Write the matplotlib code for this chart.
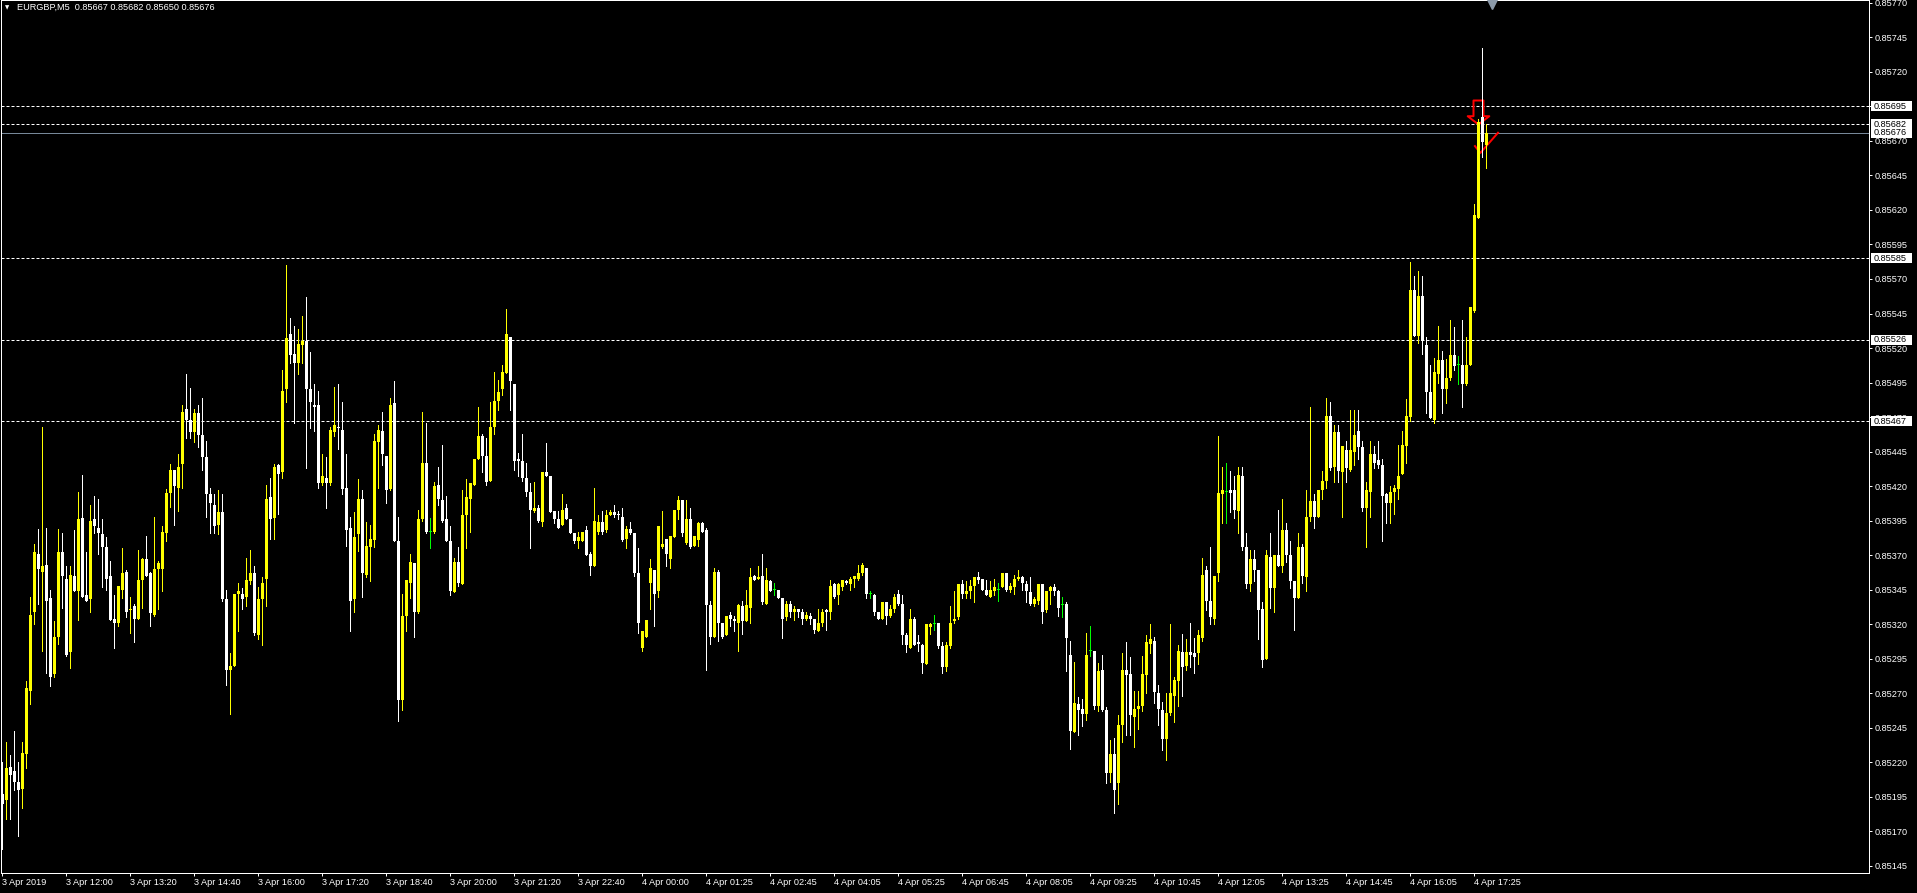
import matplotlib as mpl
mpl.use('Agg')

import matplotlib.pyplot as plt
from matplotlib.path import Path
from matplotlib.patches import Rectangle
import numpy as np

# MT4 style colours
bg_color = "#000000"
fg_color = "#FFFFFF"
bull_color = "#FFFF00"
bear_color = "#FFFFFF"
doji_color = "#00FF00"
bid_color = "#778899"
arrow_color = "#FF0000"

plt.rcParams['font.family'] = ['Liberation Sans', 'DejaVu Sans']

symbol = "EURGBP,M5"
last_ohlc = "0.85667 0.85682 0.85650 0.85676"

# EURGBP M5 candles, prices in points (1e-5)
opens = [
  85197, 85193, 85217, 85214, 85206, 85201, 85226, 85272, 85329, 85371,
  85358, 85363, 85339, 85284, 85311, 85372, 85353, 85300, 85355, 85344,
  85397, 85341, 85338, 85396, 85390, 85385, 85376, 85355, 85324, 85321,
  85345, 85358, 85330, 85333, 85324, 85352, 85367, 85357, 85327, 85360,
  85360, 85386, 85415, 85432, 85419, 85436, 85476, 85468, 85459, 85473,
  85457, 85441, 85414, 85406, 85392, 85401, 85338, 85287, 85290, 85342,
  85342, 85340, 85351, 85357, 85312, 85338, 85353, 85412, 85397, 85435,
  85430, 85490, 85530, 85516, 85509, 85522, 85525, 85490, 85479, 85479,
  85422, 85426, 85422, 85459, 85463, 85461, 85419, 85390, 85338, 85385,
  85411, 85356, 85376, 85381, 85452, 85460, 85442, 85418, 85480, 85380,
  85265, 85326, 85350, 85364, 85329, 85396, 85437, 85387, 85387, 85421,
  85410, 85396, 85380, 85343, 85365, 85349, 85399, 85411, 85421, 85440,
  85456, 85442, 85424, 85463, 85482, 85490, 85502, 85528, 85494, 85440,
  85438, 85426, 85416, 85402, 85404, 85394, 85430, 85427, 85402, 85396,
  85392, 85404, 85396, 85386, 85380, 85380, 85388, 85371, 85362, 85387,
  85394, 85388, 85399, 85401, 85400, 85398, 85382, 85389, 85386, 85357,
  85303, 85311, 85350, 85359, 85344, 85376, 85382, 85367, 85383, 85403,
  85410, 85379, 85396, 85377, 85381, 85393, 85388, 85334, 85311, 85358,
  85321, 85312, 85327, 85324, 85321, 85333, 85322, 85332, 85355, 85353,
  85355, 85335, 85351, 85345, 85345, 85339, 85325, 85335, 85329, 85331,
  85329, 85324, 85326, 85324, 85315, 85321, 85330, 85329, 85349, 85341,
  85347, 85351, 85349, 85353, 85353, 85357, 85361, 85342, 85341, 85329,
  85324, 85336, 85326, 85331, 85342, 85335, 85312, 85303, 85324, 85307,
  85305, 85291, 85318, 85320, 85321, 85304, 85289, 85304, 85322, 85325,
  85349, 85342, 85344, 85348, 85354, 85353, 85345, 85340, 85344, 85345,
  85347, 85357, 85345, 85347, 85353, 85354, 85349, 85343, 85335, 85337,
  85349, 85330, 85344, 85347, 85344, 85334, 85335, 85298, 85242, 85262,
  85259, 85255, 85301, 85301, 85261, 85287, 85258, 85212, 85226, 85205,
  85247, 85287, 85284, 85253, 85259, 85261, 85283, 85306, 85308, 85270,
  85258, 85237, 85256, 85268, 85279, 85300, 85290, 85300, 85299, 85299,
  85310, 85359, 85337, 85324, 85357, 85414, 85416, 85417, 85417, 85402,
  85427, 85376, 85349, 85367, 85359, 85331, 85295, 85369, 85346, 85370,
  85362, 85388, 85370, 85351, 85339, 85376, 85354, 85398, 85409, 85398,
  85417, 85424, 85471, 85434, 85459, 85430, 85446, 85432, 85445, 85460,
  85448, 85404, 85416, 85443, 85439, 85435, 85414, 85408, 85416, 85418,
  85429, 85449, 85470, 85562, 85529, 85558, 85522, 85488, 85468, 85501,
  85511, 85490, 85498, 85515, 85508, 85508, 85494, 85508, 85547, 85614,
  85687, 85667]

highs = [
  85220, 85235, 85225, 85243, 85220, 85235, 85279, 85340, 85378, 85389,
  85463, 85390, 85345, 85322, 85389, 85386, 85362, 85362, 85388, 85416,
  85428, 85372, 85406, 85413, 85411, 85396, 85383, 85366, 85341, 85348,
  85375, 85359, 85340, 85335, 85374, 85368, 85384, 85358, 85398, 85366,
  85391, 85418, 85436, 85432, 85443, 85479, 85501, 85491, 85476, 85479,
  85484, 85453, 85419, 85414, 85417, 85414, 85345, 85299, 85342, 85350,
  85346, 85368, 85374, 85362, 85347, 85354, 85421, 85426, 85436, 85436,
  85504, 85580, 85542, 85536, 85534, 85543, 85557, 85517, 85494, 85489,
  85443, 85441, 85463, 85492, 85494, 85481, 85443, 85398, 85401, 85425,
  85417, 85394, 85392, 85458, 85464, 85474, 85442, 85484, 85496, 85398,
  85342, 85352, 85371, 85364, 85403, 85474, 85466, 85397, 85423, 85434,
  85450, 85413, 85391, 85368, 85376, 85417, 85425, 85422, 85440, 85477,
  85458, 85455, 85481, 85503, 85497, 85508, 85548, 85528, 85494, 85444,
  85458, 85437, 85422, 85423, 85406, 85430, 85451, 85427, 85402, 85402,
  85414, 85407, 85396, 85386, 85387, 85387, 85391, 85372, 85419, 85399,
  85402, 85403, 85403, 85406, 85402, 85404, 85391, 85394, 85386, 85375,
  85315, 85323, 85367, 85359, 85391, 85402, 85382, 85384, 85403, 85413,
  85410, 85410, 85404, 85384, 85394, 85394, 85390, 85337, 85361, 85359,
  85321, 85326, 85329, 85326, 85335, 85337, 85345, 85361, 85356, 85362,
  85371, 85361, 85352, 85350, 85345, 85339, 85337, 85337, 85333, 85331,
  85331, 85329, 85328, 85324, 85331, 85331, 85331, 85352, 85350, 85350,
  85352, 85352, 85354, 85355, 85363, 85364, 85361, 85344, 85342, 85329,
  85336, 85336, 85334, 85342, 85345, 85341, 85314, 85331, 85325, 85312,
  85306, 85320, 85321, 85327, 85321, 85307, 85307, 85333, 85344, 85349,
  85352, 85351, 85352, 85354, 85358, 85353, 85352, 85351, 85353, 85350,
  85357, 85357, 85350, 85356, 85359, 85355, 85351, 85354, 85340, 85349,
  85349, 85344, 85348, 85349, 85345, 85340, 85336, 85308, 85293, 85267,
  85266, 85314, 85319, 85301, 85292, 85298, 85260, 85236, 85238, 85254,
  85299, 85307, 85296, 85272, 85272, 85297, 85312, 85320, 85311, 85276,
  85264, 85270, 85320, 85282, 85305, 85313, 85309, 85321, 85310, 85316,
  85368, 85362, 85376, 85355, 85456, 85434, 85437, 85431, 85427, 85434,
  85434, 85386, 85374, 85374, 85359, 85336, 85374, 85386, 85370, 85403,
  85411, 85393, 85380, 85351, 85386, 85378, 85417, 85477, 85414, 85417,
  85431, 85484, 85481, 85464, 85464, 85449, 85453, 85475, 85475, 85475,
  85453, 85423, 85453, 85449, 85453, 85440, 85415, 85420, 85421, 85450,
  85460, 85483, 85582, 85572, 85576, 85572, 85528, 85508, 85513, 85536,
  85518, 85512, 85540, 85535, 85514, 85540, 85528, 85550, 85624, 85686,
  85737, 85682]

lows = [
  85157, 85179, 85179, 85200, 85167, 85187, 85216, 85262, 85320, 85335,
  85301, 85285, 85275, 85282, 85306, 85332, 85297, 85288, 85344, 85323,
  85340, 85337, 85329, 85386, 85371, 85347, 85345, 85323, 85303, 85319,
  85339, 85325, 85314, 85307, 85324, 85332, 85355, 85319, 85326, 85331,
  85344, 85380, 85405, 85392, 85402, 85419, 85455, 85455, 85452, 85448,
  85432, 85398, 85386, 85386, 85385, 85337, 85276, 85255, 85290, 85315,
  85331, 85333, 85349, 85312, 85309, 85305, 85333, 85382, 85382, 85400,
  85426, 85481, 85509, 85466, 85501, 85509, 85433, 85462, 85460, 85419,
  85421, 85404, 85421, 85456, 85447, 85414, 85377, 85315, 85329, 85373,
  85340, 85354, 85351, 85376, 85419, 85435, 85408, 85417, 85380, 85250,
  85258, 85315, 85339, 85311, 85328, 85395, 85386, 85375, 85386, 85406,
  85394, 85380, 85341, 85343, 85348, 85349, 85375, 85387, 85421, 85440,
  85430, 85421, 85424, 85458, 85475, 85486, 85502, 85475, 85432, 85427,
  85424, 85413, 85375, 85401, 85394, 85391, 85427, 85401, 85393, 85390,
  85392, 85396, 85386, 85379, 85375, 85380, 85370, 85356, 85362, 85385,
  85385, 85387, 85399, 85398, 85396, 85380, 85375, 85385, 85355, 85314,
  85301, 85311, 85331, 85319, 85340, 85375, 85362, 85361, 85383, 85396,
  85384, 85378, 85375, 85377, 85377, 85387, 85287, 85306, 85311, 85308,
  85310, 85312, 85319, 85315, 85301, 85313, 85322, 85321, 85352, 85353,
  85335, 85335, 85344, 85341, 85339, 85310, 85323, 85325, 85323, 85325,
  85320, 85323, 85320, 85314, 85315, 85319, 85316, 85324, 85339, 85335,
  85345, 85349, 85345, 85347, 85352, 85356, 85339, 85339, 85327, 85324,
  85324, 85320, 85325, 85329, 85334, 85306, 85300, 85303, 85305, 85301,
  85285, 85291, 85313, 85316, 85303, 85285, 85286, 85303, 85321, 85324,
  85339, 85339, 85339, 85336, 85350, 85345, 85341, 85340, 85341, 85337,
  85347, 85344, 85343, 85342, 85352, 85345, 85336, 85334, 85333, 85335,
  85321, 85329, 85335, 85341, 85326, 85325, 85286, 85230, 85242, 85240,
  85246, 85251, 85297, 85259, 85257, 85257, 85205, 85206, 85183, 85190,
  85235, 85240, 85240, 85231, 85244, 85257, 85270, 85299, 85263, 85247,
  85229, 85222, 85254, 85249, 85261, 85268, 85287, 85289, 85285, 85291,
  85308, 85330, 85320, 85320, 85351, 85393, 85393, 85401, 85397, 85386,
  85374, 85346, 85344, 85351, 85309, 85289, 85295, 85332, 85329, 85362,
  85358, 85365, 85346, 85316, 85339, 85350, 85344, 85395, 85390, 85398,
  85411, 85419, 85432, 85423, 85423, 85398, 85423, 85431, 85435, 85440,
  85402, 85376, 85398, 85433, 85433, 85380, 85393, 85393, 85400, 85411,
  85429, 85437, 85467, 85529, 85524, 85516, 85473, 85469, 85466, 85495,
  85473, 85480, 85497, 85504, 85494, 85477, 85493, 85508, 85546, 85614,
  85658, 85650]

closes = [
  85190, 85216, 85211, 85206, 85200, 85227, 85274, 85327, 85372, 85360,
  85362, 85337, 85282, 85311, 85372, 85355, 85298, 85356, 85344, 85396,
  85340, 85337, 85395, 85391, 85386, 85376, 85353, 85323, 85321, 85348,
  85357, 85329, 85331, 85324, 85352, 85367, 85355, 85328, 85360, 85364,
  85387, 85415, 85432, 85420, 85434, 85474, 85468, 85459, 85473, 85457,
  85441, 85414, 85408, 85391, 85401, 85338, 85287, 85290, 85342, 85344,
  85338, 85352, 85357, 85314, 85338, 85350, 85411, 85396, 85434, 85429,
  85489, 85527, 85515, 85509, 85523, 85525, 85490, 85481, 85477, 85422,
  85427, 85422, 85461, 85464, 85462, 85418, 85388, 85337, 85383, 85411,
  85357, 85377, 85382, 85453, 85461, 85443, 85417, 85479, 85380, 85265,
  85326, 85352, 85365, 85329, 85396, 85437, 85387, 85387, 85420, 85411,
  85395, 85380, 85344, 85365, 85350, 85399, 85412, 85422, 85440, 85456,
  85442, 85423, 85463, 85482, 85488, 85503, 85530, 85496, 85438, 85438,
  85426, 85416, 85403, 85404, 85395, 85430, 85427, 85401, 85396, 85390,
  85403, 85396, 85386, 85380, 85383, 85387, 85370, 85362, 85395, 85394,
  85387, 85399, 85401, 85399, 85399, 85381, 85389, 85386, 85357, 85321,
  85315, 85323, 85361, 85342, 85391, 85378, 85371, 85384, 85403, 85410,
  85386, 85396, 85376, 85384, 85393, 85387, 85334, 85311, 85358, 85321,
  85311, 85326, 85324, 85322, 85334, 85322, 85334, 85354, 85352, 85354,
  85336, 85352, 85344, 85345, 85339, 85324, 85335, 85329, 85331, 85329,
  85324, 85327, 85324, 85316, 85321, 85329, 85329, 85348, 85340, 85349,
  85352, 85350, 85353, 85355, 85357, 85363, 85342, 85342, 85329, 85324,
  85336, 85326, 85331, 85340, 85335, 85312, 85305, 85324, 85305, 85306,
  85292, 85320, 85320, 85320, 85304, 85289, 85305, 85321, 85324, 85349,
  85342, 85344, 85348, 85354, 85352, 85345, 85341, 85345, 85347, 85345,
  85357, 85345, 85348, 85353, 85354, 85350, 85344, 85335, 85338, 85349,
  85329, 85344, 85347, 85344, 85332, 85334, 85310, 85243, 85263, 85258,
  85255, 85298, 85301, 85261, 85286, 85258, 85212, 85226, 85200, 85247,
  85287, 85283, 85254, 85259, 85261, 85284, 85307, 85309, 85271, 85259,
  85237, 85256, 85270, 85280, 85301, 85289, 85300, 85298, 85296, 85312,
  85356, 85337, 85325, 85355, 85415, 85417, 85416, 85415, 85403, 85428,
  85376, 85349, 85367, 85359, 85330, 85294, 85370, 85346, 85370, 85362,
  85388, 85370, 85351, 85339, 85376, 85355, 85398, 85409, 85398, 85417,
  85424, 85471, 85433, 85459, 85431, 85449, 85433, 85446, 85457, 85448,
  85404, 85417, 85443, 85437, 85435, 85413, 85408, 85416, 85419, 85427,
  85450, 85471, 85562, 85529, 85558, 85525, 85488, 85469, 85503, 85511,
  85490, 85498, 85515, 85507, 85508, 85494, 85508, 85550, 85616, 85684,
  85669, 85676]

time_labels = ["3 Apr 2019", "3 Apr 12:00", "3 Apr 13:20", "3 Apr 14:40",
  "3 Apr 16:00", "3 Apr 17:20", "3 Apr 18:40", "3 Apr 20:00", "3 Apr 21:20",
  "3 Apr 22:40", "4 Apr 00:00", "4 Apr 01:25", "4 Apr 02:45", "4 Apr 04:05",
  "4 Apr 05:25", "4 Apr 06:45", "4 Apr 08:05", "4 Apr 09:25", "4 Apr 10:45",
  "4 Apr 12:05", "4 Apr 13:25", "4 Apr 14:45", "4 Apr 16:05", "4 Apr 17:25"]
bars_per_label = 16

price_ticks = [0.85145 + 0.00025 * k for k in range(26)]

level_lines = [0.85695, 0.85682, 0.85585, 0.85526, 0.85467]
bid_price = 0.85676

# trade objects: (bar index, price)
sell_arrow = (369, 0.85691)
close_mark = (371, 0.85669)

# ---- figure geometry (pixels) ----
W, H = 1917, 893
dpi = 100
px = 72.0 / dpi           # one pixel in points
plot_left, plot_right, plot_top, plot_bottom = 1, 1869, 0, 873
bar_step = 4              # pixels between candles
ymin, ymax = 0.851399, 0.857720

fig = plt.figure(figsize=(W / dpi, H / dpi), dpi=dpi, facecolor=bg_color)
ax = fig.add_axes([plot_left / W, (H - plot_bottom) / H,
                   (plot_right - plot_left) / W, (plot_bottom - plot_top) / H])
ax.set_facecolor(bg_color)

n_bars = 467
ax.set_xlim(-0.25, n_bars - 0.25)
ax.set_ylim(ymin, ymax)

o = np.array(opens) / 1e5
h = np.array(highs) / 1e5
l = np.array(lows) / 1e5
c = np.array(closes) / 1e5
h = np.maximum(h, np.maximum(o, c))
l = np.minimum(l, np.minimum(o, c))
idx = np.arange(len(o))

colors = np.where(c > o, bull_color, np.where(c < o, bear_color, doji_color))

one_px_price = (ymax - ymin) / (plot_bottom - plot_top)

# trade arrows (behind candles)
arrow_path = Path([(-5, 12), (5, 12), (5, -3.7), (10.8, -3.7), (0, -12),
                   (-10.8, -3.7), (-5, -3.7), (-5, 12)],
                  [Path.MOVETO] + [Path.LINETO] * 6 + [Path.CLOSEPOLY])
ax.plot([sell_arrow[0]], [sell_arrow[1]], marker=arrow_path,
        markersize=24 * px, markerfacecolor='none',
        markeredgecolor=arrow_color, markeredgewidth=2 * px, zorder=2)
check_path = Path([(-12.15, -2.8), (-6.15, -10.5), (12.15, 10.5)],
                  [Path.MOVETO, Path.LINETO, Path.LINETO])
ax.plot([close_mark[0]], [close_mark[1]], marker=check_path,
        markersize=24.3 * px, markerfacecolor='none',
        markeredgecolor=arrow_color, markeredgewidth=2 * px, zorder=2)

# levels
for lvl in level_lines:
  ax.axhline(lvl, color=fg_color, linewidth=px, dashes=(3, 2), zorder=1)
ax.axhline(bid_price, color=bid_color, linewidth=px, zorder=1)

# candles
ax.vlines(idx, l, h, colors=colors, linewidth=px, antialiased=False, zorder=3)
body_bottom = np.minimum(o, c)
body_height = np.maximum(np.abs(c - o), one_px_price)
ax.bar(idx, body_height, bottom=body_bottom, width=0.75, color=colors,
       linewidth=0, antialiased=False, zorder=4)

# frame
for s in ax.spines.values():
  s.set_color(fg_color)
  s.set_linewidth(px)

# price axis on the right
ax.yaxis.tick_right()
ax.set_yticks(price_ticks)
ax.set_yticklabels(["%.5f" % p for p in price_ticks])
ax.tick_params(axis='y', direction='out', length=3 * px, width=px,
               colors=fg_color, labelsize=6.6, pad=3 * px)

# time axis
tick_bars = [bars_per_label * k for k in range(len(time_labels))]
ax.set_xticks(tick_bars)
ax.set_xticklabels(time_labels, ha='left')
ax.tick_params(axis='x', direction='out', length=3 * px, width=px,
               colors=fg_color, labelsize=6.6, pad=2 * px)

# price labels for the level lines
ytrans = ax.get_yaxis_transform()
box_x0 = (1871 - plot_left) / (plot_right - plot_left)
box_w = 41.0 / (plot_right - plot_left)
box_h = 10 * one_px_price
text_x = (1874 - plot_left) / (plot_right - plot_left)
for lvl in level_lines + [bid_price]:
  ax.add_patch(Rectangle((box_x0, lvl - box_h / 2), box_w, box_h,
                         transform=ytrans, facecolor=fg_color,
                         edgecolor='none', clip_on=False, zorder=6))
  ax.text(text_x, lvl, "%.5f" % lvl, transform=ytrans, color=bg_color,
          fontsize=6.6, ha='left', va='center', clip_on=False, zorder=7)

# chart shift marker
ax.plot([(1492 - plot_left) / (plot_right - plot_left)], [0.995],
        marker='v', markersize=7 * px * 1.5, color='#8C9AAA',
        transform=ax.transAxes, clip_on=False, zorder=5)

# header
fig.text(4.5 / W, 1 - 7.5 / H, "\u25bc", color=fg_color, fontsize=4,
         ha='left', va='center', family=['DejaVu Sans'])
fig.text(17 / W, 1 - 7.5 / H, symbol + "  " + last_ohlc, color=fg_color,
         fontsize=6.6, ha='left', va='center')

fig.savefig("out.png", dpi=dpi, facecolor=bg_color)
plt.close()
